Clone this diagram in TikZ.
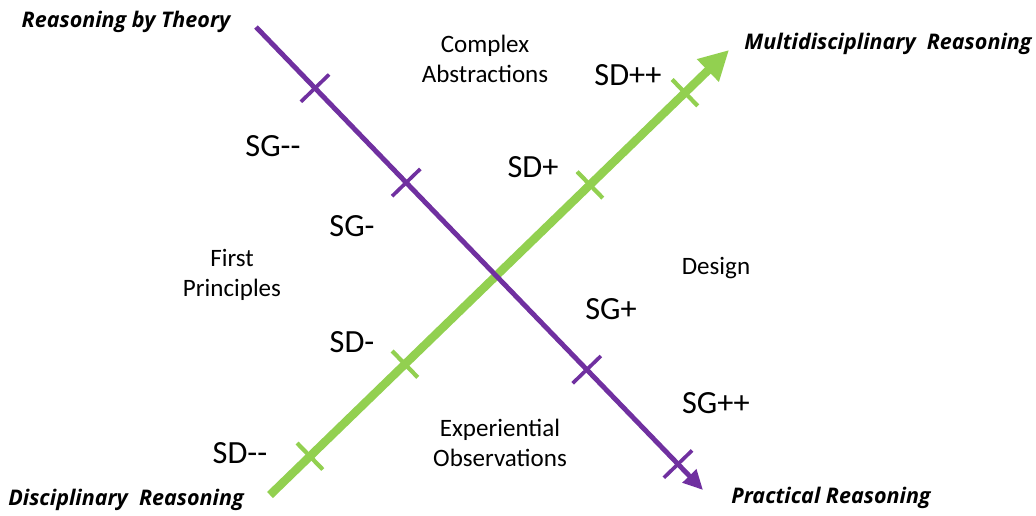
\documentclass[tikz,border=0pt]{standalone}
\usepackage{fontspec}
\setmainfont{Carlito}
\newfontfamily\axisfont{Open Sans}
\usetikzlibrary{arrows.meta,calc}
\definecolor{sgpurple}{HTML}{7030A0}
\definecolor{sdgreen}{HTML}{92D050}

\begin{document}
\begin{tikzpicture}[x=0.025cm, y=-0.025cm,
    sdline/.style = {sdgreen, line width=6pt, -{Triangle[length=21pt, width=21pt]}},
    sgline/.style = {sgpurple, line width=3.5pt, -{Triangle[length=14pt, width=13pt]}},
    sdtick/.style = {sdgreen, line width=3pt},
    sgtick/.style = {sgpurple, line width=2.6pt},
    axislabel/.style = {font=\axisfont\bfseries\itshape\fontsize{15.3}{18}\selectfont},
    levellabel/.style = {font=\fontsize{23}{26}\selectfont},
    regionlabel/.style = {font=\fontsize{17.8}{21.5}\selectfont, align=center}]%
    \useasboundingbox (0, 0) rectangle (1036, 515);
    \coordinate (sdstart) at (270, 495);
    \coordinate (sdend) at (729, 50);
    \coordinate (sgstart) at (256, 27);
    \coordinate (sgend) at (703, 490);
    \draw[sdline] (sdstart) -- (sdend);
    \foreach \t in {0.087, 0.294, 0.697, 0.904}
        \draw[sdtick] ($(sdstart)!\t!(sdend)$) coordinate (c)
            ($(c)!0.46cm!90:(sdend)$) -- ($(c)!0.46cm!-90:(sdend)$);
    \draw[sgline] (sgstart) -- (sgend);
    \foreach \t in {0.132, 0.336, 0.740, 0.944}
        \draw[sgtick] ($(sgstart)!\t!(sgend)$) coordinate (c)
            ($(c)!0.49cm!90:(sgend)$) -- ($(c)!0.49cm!-90:(sgend)$);
    \node[axislabel] (theory) at (126, 22) {Reasoning by Theory};
    \node[axislabel] (multi) at (888, 44) {Multidisciplinary\ \ Reasoning};
    \node[axislabel] (disc) at (126, 500) {Disciplinary\ \ Reasoning};
    \node[axislabel] (prac) at (831, 498) {Practical Reasoning};
    \node[regionlabel] (complex) at (485, 59) {Complex\\Abstractions};
    \node[regionlabel] (first) at (232, 275) {First\\Principles};
    \node[regionlabel] (design) at (716, 268) {Design};
    \node[regionlabel] (exper) at (500, 443) {Experiential\\Observations};
    \node[levellabel] (sdpp) at (628, 75) {SD++};
    \node[levellabel] (sdp) at (533, 167) {SD+};
    \node[levellabel] (sdm) at (352, 342) {SD-};
    \node[levellabel] (sdmm) at (240, 453) {SD-{}-};
    \node[levellabel] (sgmm) at (273, 146) {SG-{}-};
    \node[levellabel] (sgm) at (352, 226) {SG-};
    \node[levellabel] (sgp) at (611, 309) {SG+};
    \node[levellabel] (sgpp) at (716, 403) {SG++};
\end{tikzpicture}
\end{document}
